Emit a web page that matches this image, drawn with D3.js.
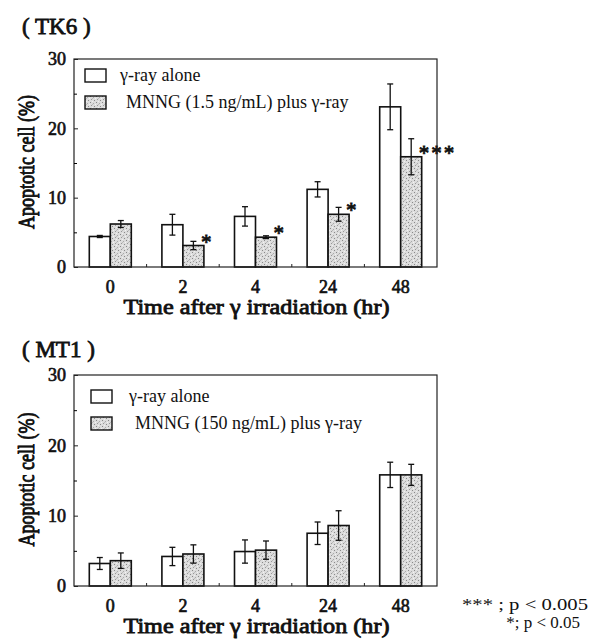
<!DOCTYPE html>
<html><head><meta charset="utf-8">
<script src="https://cdn.jsdelivr.net/npm/d3@7/dist/d3.min.js"></script>
<style>
html,body{margin:0;padding:0;background:#fff;}
svg{display:block;}
text{font-family:"Liberation Serif","Times New Roman",serif;fill:#111;}
</style></head>
<body>
<svg id="chart" width="591" height="641"></svg>
<script>
// ---- data ----
const categories = ["0", "2", "4", "24", "48"];
const tk6Alone    = [4.4, 6.1, 7.3, 11.2, 23.1];
const tk6AloneErr = [0.15, 1.5, 1.4, 1.1, 3.3];
const tk6Mnng     = [6.2, 3.1, 4.3, 7.6, 15.9];
const tk6MnngErr  = [0.5, 0.6, 0.2, 1.0, 2.6];
const tk6Sig      = ["", "*", "*", "*", "***"];
const mt1Alone    = [3.2, 4.2, 4.9, 7.5, 15.8];
const mt1AloneErr = [0.85, 1.3, 1.65, 1.6, 1.8];
const mt1Mnng     = [3.6, 4.55, 5.1, 8.6, 15.8];
const mt1MnngErr  = [1.1, 1.3, 1.3, 2.1, 1.5];
const mt1Sig      = ["", "", "", "", ""];
const yTicks      = [0, 10, 20, 30];
const yMinorTicks = [5, 15, 25];
const legendTK6   = ["γ-ray alone", "MNNG (1.5 ng/mL) plus γ-ray"];
const legendMT1   = ["γ-ray alone", "MNNG (150 ng/mL) plus γ-ray"];
const sigNotes    = ["*** ; p < 0.005", "*; p < 0.05"];

const svg = d3.select("#chart");
const defs = svg.append("defs");
// stipple pattern
const pat = defs.append("pattern").attr("id","stip").attr("patternUnits","userSpaceOnUse")
  .attr("width",6).attr("height",6);
pat.append("rect").attr("width",6).attr("height",6).attr("fill","#dcdcdc");
[[0,0,"#888"],[3,1,"#aaa"],[1,3,"#999"],[4,4,"#8a8a8a"],[5,2,"#f4f4f4"],[2,5,"#f0f0f0"],[2,2,"#bbb"]]
  .forEach(([x,y,c])=>pat.append("rect").attr("x",x).attr("y",y).attr("width",1).attr("height",1).attr("fill",c));

// faux bold (serif bold face not available)
function bold(sel, w){ return sel.attr("font-weight","normal").attr("stroke","#111").attr("stroke-width", w||0.65); }

function drawPanel(opt){
  const {title, titleY, top, bottom, alone, aloneErr, mnng, mnngErr, sig, legend, legX, legY, legTextX} = opt;
  const left = 74, right = 437;
  const g = svg.append("g");
  const x = d3.scaleBand().domain(categories).range([left, right]).padding(0);
  const x1 = d3.scaleBand().domain([0,1]).range([0, 42]);
  const y = d3.scaleLinear().domain([0,30]).range([bottom, top]);

  // title
  bold(g.append("text").attr("x",22).attr("y",titleY).attr("font-size",23).attr("xml:space","preserve").text(title), 0.8);

  // bars
  const series = [
    {vals: alone, errs: aloneErr, fill: "#fff"},
    {vals: mnng, errs: mnngErr, fill: "url(#stip)"}
  ];
  series.forEach((s, si) => {
    categories.forEach((c, i) => {
      const bx = x(c) + x.bandwidth()/2 - 21 + x1(si);
      const bw = x1.bandwidth();
      g.append("rect").attr("x",bx).attr("y",y(s.vals[i])).attr("width",bw)
        .attr("height",y(0)-y(s.vals[i])).attr("fill",s.fill).attr("stroke","#111").attr("stroke-width",1.6);
      const cx = bx + bw/2;
      const y0 = y(s.vals[i]-s.errs[i]), y1 = y(s.vals[i]+s.errs[i]);
      g.append("line").attr("x1",cx).attr("x2",cx).attr("y1",y0).attr("y2",y1).attr("stroke","#111").attr("stroke-width",1.3);
      [y0,y1].forEach(yy=>g.append("line").attr("x1",cx-3).attr("x2",cx+3).attr("y1",yy).attr("y2",yy).attr("stroke","#111").attr("stroke-width",1.3));
      if (si===1 && sig[i]) {
        bold(g.append("text").attr("x", bx+bw-3).attr("y", y(s.vals[i]) + 3)
          .attr("font-size",21).attr("letter-spacing",2).text(sig[i]), 0.8);
      }
    });
  });

  // frame
  g.append("rect").attr("x",left).attr("y",top).attr("width",right-left).attr("height",bottom-top)
    .attr("fill","none").attr("stroke","#222").attr("stroke-width",1.2);

  // y axis (ticks inward)
  const yAxis = d3.axisLeft(y).tickValues(yTicks).tickSize(-4).tickPadding(8).tickFormat(d3.format("d"));
  const ya = g.append("g").attr("transform",`translate(${left},0)`).call(yAxis);
  ya.select(".domain").remove();
  bold(ya.selectAll("text").attr("font-size",18).attr("font-family","Liberation Serif").attr("fill","#111"));
  ya.selectAll("line").attr("stroke","#222");
  const yMinor = d3.axisLeft(y).tickValues(yMinorTicks).tickSize(-3).tickFormat("");
  const ym = g.append("g").attr("transform",`translate(${left},0)`).call(yMinor);
  ym.select(".domain").remove();

  // x axis
  const xAxis = d3.axisBottom(x).tickSize(0).tickPadding(0);
  const xa = g.append("g").attr("transform",`translate(0,${bottom})`).call(xAxis);
  xa.select(".domain").remove();
  bold(xa.selectAll("text").attr("font-size",18).attr("font-family","Liberation Serif").attr("fill","#111")
    .attr("dy",null).attr("y",26));
  categories.slice(1).forEach(c=>{
    g.append("line").attr("x1",x(c)).attr("x2",x(c)).attr("y1",bottom).attr("y2",bottom-3).attr("stroke","#222");
  });

  // axis titles
  bold(g.append("text").attr("x",(left+right)/2 + 1).attr("y",bottom+47).attr("text-anchor","middle")
    .attr("font-size",20).attr("textLength",266).attr("lengthAdjust","spacingAndGlyphs")
    .text("Time after γ irradiation (hr)"), 0.8);
  bold(g.append("text").attr("transform",`translate(34,${(top+bottom)/2 - 1}) rotate(-90) scale(1,1.3)`).attr("text-anchor","middle")
    .attr("font-size",18).text("Apoptotic cell (%)"), 0.75);

  // legend
  legend.forEach((t,i)=>{
    const ly = legY + i*27;
    g.append("rect").attr("x",legX).attr("y",ly).attr("width",21).attr("height",13)
      .attr("fill", i===0 ? "#fff" : "url(#stip)").attr("stroke","#111").attr("stroke-width",1.4);
    g.append("text").attr("x",legTextX + i*6).attr("y",ly+12).attr("font-size",18).text(t);
  });
}

drawPanel({title:"( TK6 )", titleY:34, top:59, bottom:267, alone:tk6Alone, aloneErr:tk6AloneErr,
  mnng:tk6Mnng, mnngErr:tk6MnngErr, sig:tk6Sig, legend:legendTK6, legX:85, legY:69, legTextX:120});
drawPanel({title:"( MT1 )", titleY:357, top:375, bottom:586, alone:mt1Alone, aloneErr:mt1AloneErr,
  mnng:mt1Mnng, mnngErr:mt1MnngErr, sig:mt1Sig, legend:legendMT1, legX:91, legY:390, legTextX:129});

// significance notes
svg.append("text").attr("x",588).attr("y",610).attr("text-anchor","end").attr("font-size",16)
  .attr("textLength",126).attr("lengthAdjust","spacingAndGlyphs").text(sigNotes[0]);
svg.append("text").attr("x",580).attr("y",628).attr("text-anchor","end").attr("font-size",17)
  .text(sigNotes[1]);
</script>
</body></html>
